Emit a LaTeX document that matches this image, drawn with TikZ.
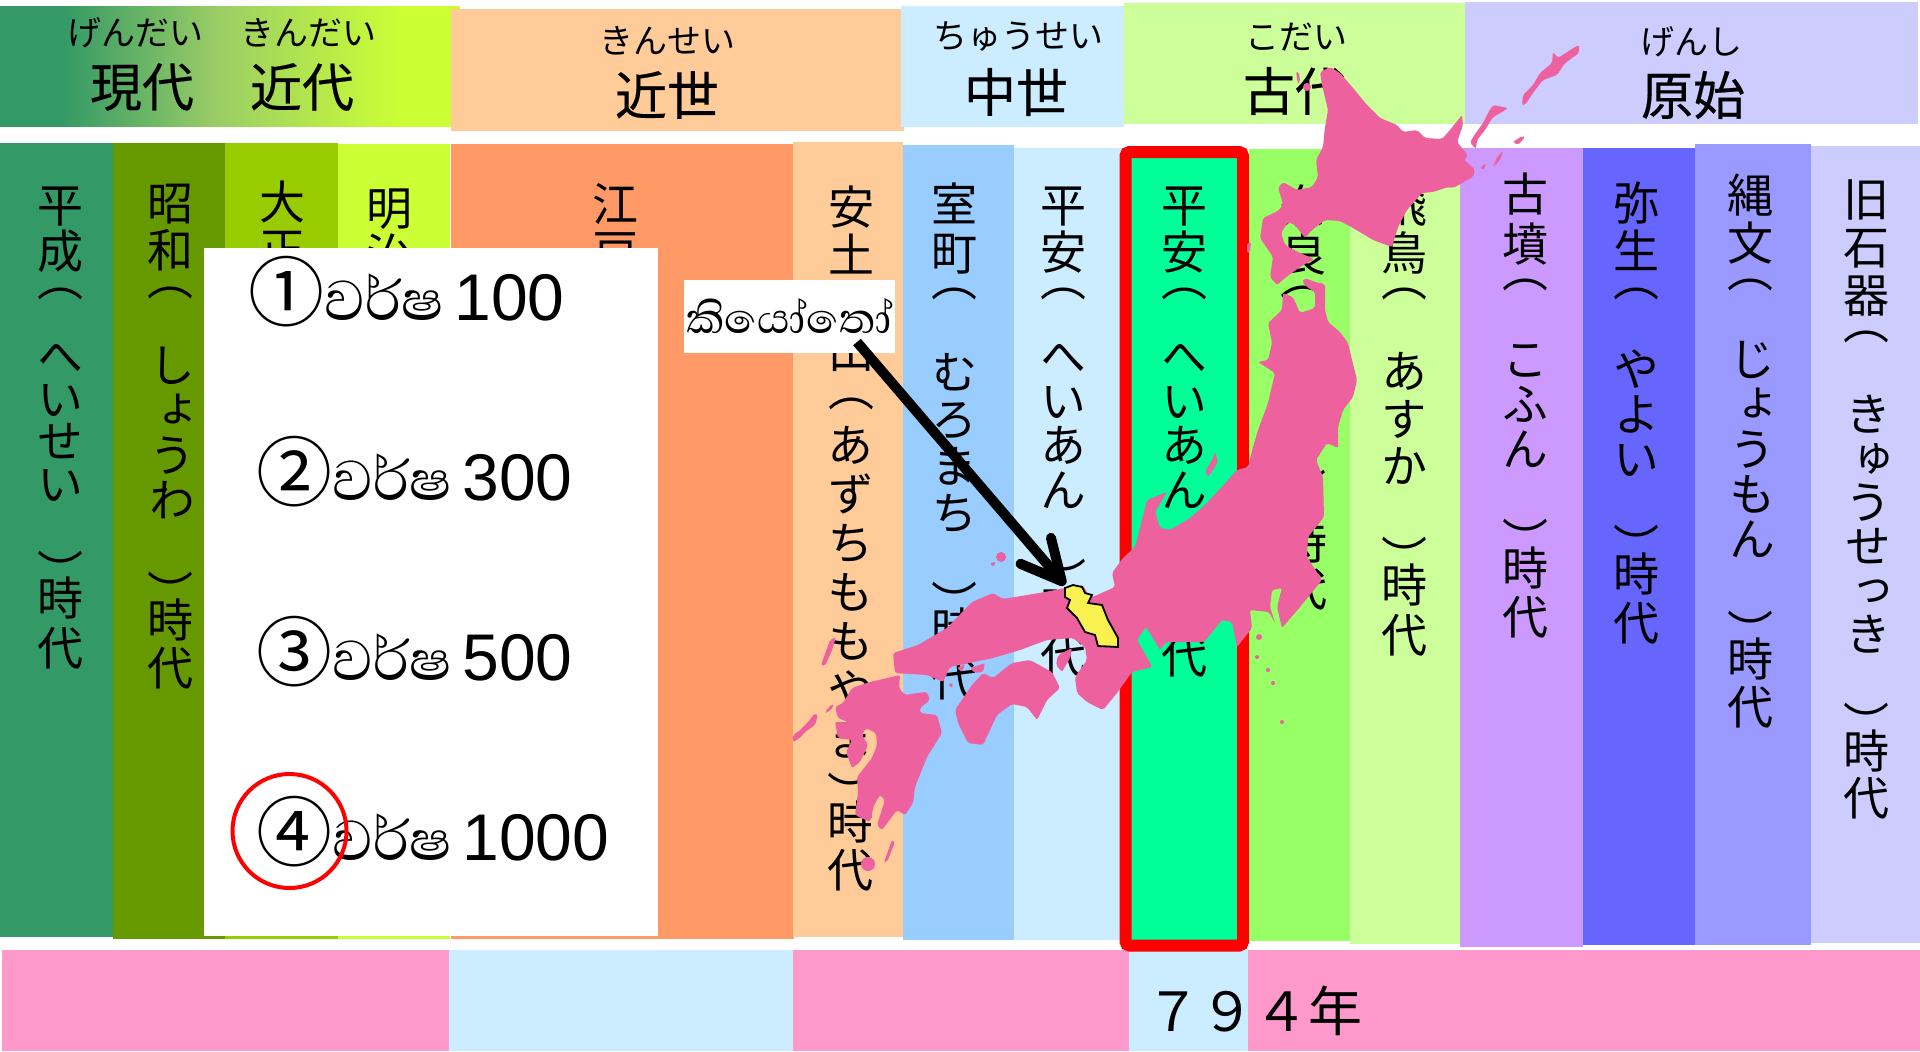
\documentclass[tikz,border=0pt]{standalone}
\usepackage{fontspec}
\usepackage{xcolor}
\usetikzlibrary{arrows.meta}
\setmainfont{Liberation Sans}
\newfontfamily\vfnt[RawFeature=+vert]{Noto Sans CJK JP}
\newfontfamily\jfnt{Noto Sans CJK JP}
\newfontfamily\efnt[FakeBold=0.35]{Noto Sans CJK JP}
\newfontfamily\sinf[Script=Sinhala]{Abhaya Libre}
\definecolor{cHeisei}{HTML}{339966}
\definecolor{cShowa}{HTML}{669900}
\definecolor{cTaisho}{HTML}{99CC00}
\definecolor{cMeiji}{HTML}{CCFF33}
\definecolor{cEdo}{HTML}{FF9966}
\definecolor{cAzuchi}{HTML}{FFCC99}
\definecolor{cMuro}{HTML}{99CCFF}
\definecolor{cLBlue}{HTML}{CCECFF}
\definecolor{cHeian}{HTML}{00FF99}
\definecolor{cNara}{HTML}{99FF66}
\definecolor{cAsuka}{HTML}{CCFF99}
\definecolor{cKofun}{HTML}{CC99FF}
\definecolor{cYayoi}{HTML}{6666FF}
\definecolor{cJomon}{HTML}{9999FF}
\definecolor{cStone}{HTML}{CCCCFF}
\definecolor{cPink}{HTML}{FF99CC}
\definecolor{cMap}{HTML}{EC619E}
\definecolor{cKyoto}{HTML}{F8F150}
\definecolor{cMid}{HTML}{99CC66}
\newcounter{vn}
\def\vlim{\lineskiplimit -100pt\relax}
\newcommand\vs[4]{\stepcounter{vn}\pgfmathsetmacro\vsk{#3/2}%
  \node[vt,font={\vfnt\fontsize{23}{\vsk}\selectfont\vlim}] (v\arabic{vn}) at (#1,{#2-23}) {\rule{0pt}{20.2pt}#4};}
\newcommand\vo[2]{\vs{#1}{#2-11}{46}{（}}
\newcommand\vc[2]{\vs{#1}{#2+11}{46}{）}}
\newcommand\optn[5]{\node[optxt] (#1) at (#2,#3) {\makebox[38pt][l]{\jfnt\fontsize{38}{40}\selectfont #5}\makebox[65pt][l]{\sinf\fontsize{36}{40}\selectfont වර්ෂ}#4};}
\tikzset{
  vt/.style={anchor=north,inner sep=0pt,align=center,text=black},
  ruby/.style={font=\jfnt\fontsize{17}{18}\selectfont,inner sep=0pt},
  era/.style={font=\efnt\fontsize{26}{28}\selectfont,inner sep=0pt},
  optxt/.style={anchor=base west,inner sep=0pt,font=\fontsize{33}{36}\selectfont},
  jp/.style={fill=cMap,rounded corners=1pt},
}
\begin{document}
\begin{tikzpicture}[x=0.5pt,y=-0.5pt]
\useasboundingbox (0,0) rectangle (1920,1051);
\fill[white] (0,0) rectangle (1920,1051);
% top bands
\fill[cHeisei] (0,6) rectangle (62,127);
\foreach \i in {0,...,37}{
  \pgfmathtruncatemacro\pp{\i*100/38}
  \pgfmathsetmacro\xa{60+4*\i}
  \fill[cMid!\pp!cHeisei] (\xa,6) rectangle ({\xa+5},127);
}
\foreach \i in {0,...,46}{
  \pgfmathtruncatemacro\pp{\i*100/47}
  \pgfmathsetmacro\xa{212+4*\i}
  \fill[cMeiji!\pp!cMid] (\xa,6) rectangle ({\xa+5},127);
}
\fill[cMeiji] (400,6) rectangle (451,127);
\fill[cMeiji] (451,6) rectangle (460,9);
\fill[cAzuchi] (451,9) rectangle (904,131);
\fill[cLBlue] (901,6) rectangle (1124,127);
\fill[cAsuka] (1124,3) rectangle (1466,124);
\fill[cStone] (1465,2) rectangle (1918,124);
% columns
\fill[cHeisei] (0,143) rectangle (113,937);
\fill[cShowa] (113,143) rectangle (225,939);
\fill[cTaisho] (225,143) rectangle (338,939);
\fill[cMeiji] (338,144) rectangle (450,939);
\fill[cEdo] (451,144) rectangle (794,939);
\fill[cAzuchi] (793,142) rectangle (903,937);
\fill[cMuro] (903,145) rectangle (1014,940);
\fill[cLBlue] (1014,148) rectangle (1122,940);
\fill[cHeian] (1122,148) rectangle (1245,940);
\fill[cNara] (1249,149) rectangle (1350,941);
\fill[cAsuka] (1350,148) rectangle (1460,944);
\fill[cKofun] (1460,148) rectangle (1583,947);
\fill[cYayoi] (1583,148) rectangle (1695,945);
\fill[cJomon] (1695,144) rectangle (1811,945);
\fill[cStone] (1811,146) rectangle (1920,943);
% bottom bar
\fill[cPink] (2,950) rectangle (449,1051);
\fill[cLBlue] (449,950) rectangle (793,1051);
\fill[cPink] (793,950) rectangle (1129,1051);
\fill[cLBlue] (1129,950) rectangle (1248,1051);
\fill[cPink] (1248,950) rectangle (1920,1051);
\node[font=\jfnt\fontsize{27}{29}\selectfont,inner sep=0pt] (year) at (1254,1011) {７９４年};
% headers
\node[ruby] (r1) at (135,33) {げんだい};
\node[era] (e1) at (142,87) {現代};
\node[ruby] (r2) at (308,33) {きんだい};
\node[era] (e2) at (302,87) {近代};
\node[ruby] (r3) at (667,41) {きんせい};
\node[era] (e3) at (667,95) {近世};
\node[ruby] (r4) at (1018,37) {ちゅうせい};
\node[era] (e4) at (1016,92) {中世};
\node[ruby] (r5) at (1296,37) {こだい};
\node[era] (e5) at (1295,91) {古代};
\node[ruby] (r6) at (1691,42) {げんし};
\node[era] (e6) at (1693,95) {原始};
% column text
\vs{60}{204.5}{46.5}{平\\成}\vo{60}{289.5}\vs{60}{356}{42.5}{へ\\い\\せ\\い}\vc{60}{560.5}\vs{60}{598}{50}{時\\代}
\vs{170}{203}{47}{昭\\和}\vo{170}{288.5}\vs{172}{365}{45}{し\\ょ\\う\\わ}\vc{170}{581.5}\vs{170}{620}{48}{時\\代}
\vs{282}{202}{47}{大\\正}
\vs{389}{207.5}{47}{明\\治}
\vs{615}{204}{47}{江\\戸}
\vs{851}{206.5}{48}{安\\土\\桃\\山}\vo{851}{399.5}\vs{850}{445}{49}{あ\\ず\\ち\\も\\も\\や\\ま}\vc{850}{783}\vs{850}{822}{48}{時\\代}
\vs{954}{203.5}{49}{室\\町}\vo{954}{290}\vs{954}{372}{47}{む\\ろ\\ま\\ち}\vc{954}{592}\vs{954}{629}{50}{時\\代}
\vs{1063}{204.5}{47.5}{平\\安}\vo{1063}{290}\vs{1063}{356}{44.5}{へ\\い\\あ\\ん}\vc{1063}{569}\vs{1063}{608}{48}{時\\代}
\vs{1184}{204.5}{47.5}{平\\安}\vo{1184}{290}\vs{1184}{356}{44.5}{へ\\い\\あ\\ん}\vc{1184}{569}\vs{1184}{608}{48}{時\\代}
\vs{1303}{206}{48}{奈\\良}\vo{1303}{288}\vs{1303}{342}{48}{な\\ら}\vc{1303}{480}\vs{1304}{541.5}{47}{時\\代}
\vs{1404}{205}{48}{飛\\鳥}\vo{1404}{290}\vs{1404}{371}{47.5}{あ\\す\\か}\vc{1404}{547}\vs{1404}{585}{50}{時\\代}
\vs{1525}{194}{49.5}{古\\墳}\vo{1525}{281}\vs{1525}{359}{45}{こ\\ふ\\ん}\vc{1525}{529}\vs{1525}{568}{49}{時\\代}
\vs{1636}{203}{48}{弥\\生}\vo{1636}{290}\vs{1636}{369}{45}{や\\よ\\い}\vc{1636}{535}\vs{1636}{574}{49}{時\\代}
\vs{1750}{194.5}{48.5}{縄\\文}\vo{1750}{281}\vs{1752}{359}{45}{じ\\ょ\\う\\も\\ん}\vc{1750}{620.5}\vs{1750}{659}{48}{時\\代}
\vs{1866}{199}{48}{旧\\石\\器}\vo{1866}{333}\vs{1868}{414}{44}{き\\ゅ\\う\\せ\\っ\\き}\vc{1866}{712.5}\vs{1866}{751}{47}{時\\代}
% red frame
\draw[red,line width=6pt,rounded corners=2pt] (1125.5,152) rectangle (1243,945.5);
% map
\fill[jp]
 (1330,67)--(1340,73)--(1353,88)--(1367,105)--(1380,118)--(1397,125)--(1403,132)--(1417,130)--(1425,138)--(1442,139)--(1450,130)--(1462,115)--(1463,125)--(1457,142)--(1468,155)--(1464,160)--(1470,165)--(1475,170)--(1473,177)--(1462,183)--(1453,188)--(1448,187)--(1433,192)--(1422,193)--(1407,210)--(1398,227)--(1392,247)--(1373,240)--(1353,228)--(1340,221)--(1325,220)--(1312,230)--(1305,238)--(1295,225)--(1288,222)--(1281,233)--(1285,245)--(1298,252)--(1314,259)--(1300,267)--(1285,278)--(1277,285)--(1270,277)--(1273,257)--(1260,238)--(1263,218)--(1278,211)--(1283,205)--(1281,197)--(1278,188)--(1283,182)--(1297,190)--(1312,187)--(1318,177)--(1316,160)--(1323,147)--(1325,127)--(1328,110)--(1322,85)--(1320,72)--cycle
 (1283,293)--(1293,297)--(1300,313)--(1315,308)--(1315,292)--(1307,287)--(1302,282)--(1305,278)--(1315,282)--(1325,284)--(1325,310)--(1328,322)--(1340,332)--(1348,343)--(1352,360)--(1357,380)--(1353,397)--(1343,410)--(1338,427)--(1338,448)--(1327,443)--(1316,460)--(1323,477)--(1324,517)--(1308,537)--(1307,557)--(1322,580)--(1300,607)--(1282,628)--(1277,607)--(1282,588)--(1272,590)--(1270,607)--(1275,623)--(1269,612)--(1250,610)--(1252,628)--(1237,647)--(1232,622)--(1222,620)--(1204,642)--(1166,642)--(1160,650)--(1154,640)--(1146,627)--(1137,640)--(1150,663)--(1152,667)--(1132,672)--(1117,693)--(1103,710)--(1087,702)--(1077,693)--(1075,677)--(1087,660)--(1085,647)--(1073,638)--(1047,640)--(1020,650)--(993,658)--(950,667)--(943,682)--(927,675)--(895,673)--(893,653)--(918,645)--(947,628)--(972,602)--(993,593)--(1003,599)--(1045,592)--(1065,588)--(1083,585)--(1090,598)--(1097,595)--(1115,587)--(1112,573)--(1123,558)--(1135,547)--(1142,520)--(1147,500)--(1167,492)--(1155,512)--(1160,528)--(1170,530)--(1190,518)--(1207,503)--(1228,480)--(1237,470)--(1248,467)--(1253,447)--(1258,430)--(1268,403)--(1275,373)--(1258,362)--(1268,360)--(1272,343)--(1268,323)--(1282,310)--cycle
 (955,710)--(972,685)--(983,673)--(993,678)--(1012,663)--(1030,660)--(1052,672)--(1060,688)--(1047,700)--(1037,720)--(1027,707)--(1012,704)--(997,715)--(983,745)--(968,743)--(958,723)--cycle
 (870,682)--(900,675)--(899,688)--(905,695)--(917,693)--(927,692)--(930,700)--(920,708)--(920,713)--(937,715)--(942,733)--(927,757)--(915,787)--(913,803)--(905,815)--(897,810)--(882,830)--(877,825)--(885,800)--(880,795)--(874,805)--(870,822)--(855,815)--(858,793)--(857,777)--(872,758)--(877,745)--(876,733)--(866,728)--(862,735)--(868,745)--(860,762)--(852,768)--(846,752)--(852,740)--(838,738)--(835,722)--(848,722)--(838,718)--(835,707)--(843,703)--(852,688)--cycle
 (1058,655)--(1072,648)--(1070,658)--(1062,672)--(1056,665)--cycle
 (1470,143)--(1473,137)--(1483,123)--(1488,113)--(1493,105)--(1508,108)--(1502,112)--(1493,117)--(1485,130)--(1477,140)--(1476,149)--cycle
 (1522,105)--(1523,95)--(1533,85)--(1540,73)--(1552,63)--(1553,52)--(1558,58)--(1575,47)--(1579,45)--(1579,53)--(1565,63)--(1557,75)--(1543,80)--(1535,90)--(1525,105)--cycle
 (1513,142)--(1522,136)--(1525,137)--(1518,145)--cycle
 (1497,157)--(1503,151)--(1500,160)--(1493,167)--cycle
 (1480,168)--(1486,163)--(1484,170)--cycle
 (1296,72)--(1299,72)--(1300,82)--(1298,84)--cycle
 (1247,243)--(1251,242)--(1250,252)--(1247,253)--cycle
 (830,640)--(836,637)--(832,650)--(825,666)--(821,665)--cycle
 (825,712)--(832,704)--(834,706)--(827,713)--cycle
 (793,735)--(798,732)--(808,722)--(815,713)--(818,715)--(815,725)--(805,732)--(800,738)--(793,742)--cycle
 (892,840)--(895,842)--(887,862)--(884,862)--cycle
 (1215,452)--(1218,462)--(1208,477)--(1205,472)--(1212,460)--cycle
 (990,563)--(996,562)--(993,567)--cycle
 (957,668)--(965,664)--(962,672)--cycle
 (970,668)--(985,663)--(983,672)--(975,673)--cycle
 (948,684)--(953,683)--(952,688)--cycle;
\fill[jp] (868,864) circle[radius=7];
\fill[jp] (1001,557) circle[radius=5];
\fill[jp] (1307,87) circle[radius=4];
\fill[jp] (1259,637) circle[radius=3];
\fill[jp] (1257,657) circle[radius=2];
\fill[jp] (1268,670) circle[radius=2];
\fill[jp] (1273,683) circle[radius=2];
\fill[jp] (1282,722) circle[radius=2];
% Kyoto
\draw[black,line width=0.9pt,fill=cKyoto] (1065,588)--(1073,585)--(1082,587)--(1085,593)--(1092,595)--(1088,603)--(1102,605)--(1108,620)--(1118,638)--(1118,647)--(1098,646)--(1095,635)--(1085,632)--(1077,618)--(1067,608)--(1070,600)--(1065,597)--cycle;
\coordinate (kyoto) at (1065,585);
% answers
\fill[white] (204,248) rectangle (658,936);
\optn{o1}{248}{320.5}{100}{①}
\optn{o2}{256}{500}{300}{②}
\optn{o3}{256}{680}{500}{③}
\optn{o4}{256}{860}{1000}{④}
\node[circle,draw=red,line width=2pt,minimum size=57pt,inner sep=0pt] (pick) at (289.5,831) {};
% label and arrow
\node[fill=white,minimum width=105.5pt,minimum height=36.5pt,inner sep=0pt,font=\sinf\fontsize{27}{30}\selectfont] (kiyoto) at (789.5,316.5) {කියෝතෝ};
\coordinate (labelfoot) at (857,342);
\draw[line width=5pt,-{Straight Barb[length=20pt,width=20pt,round]}] (labelfoot) -- (kyoto);
\end{tikzpicture}
\end{document}
